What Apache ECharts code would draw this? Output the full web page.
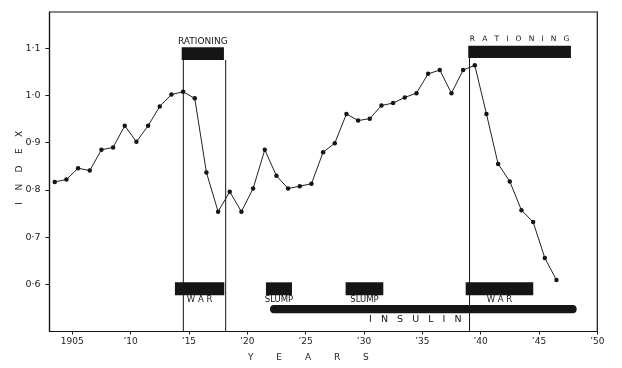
<!DOCTYPE html>
<html>
<head>
<meta charset="utf-8">
<script src="https://cdn.jsdelivr.net/npm/echarts@6/dist/echarts.min.js"></script>
<style>
html,body{margin:0;padding:0;background:#fff;}
#chart{width:622px;height:368px;}
</style>
</head>
<body>
<div id="chart"></div>
<script>
// ---- data ----
const years = [1903,1904,1905,1906,1907,1908,1909,1910,1911,1912,1913,1914,1915,1916,1917,1918,1919,1920,1921,1922,1923,1924,1925,1926,1927,1928,1929,1930,1931,1932,1933,1934,1935,1936,1937,1938,1939,1940,1941,1942,1943,1944,1945,1946];
const indexValues = [0.817,0.822,0.846,0.841,0.885,0.890,0.936,0.902,0.936,0.977,1.002,1.008,0.994,0.837,0.754,0.796,0.754,0.803,0.885,0.830,0.803,0.808,0.813,0.880,0.899,0.961,0.947,0.951,0.979,0.984,0.996,1.005,1.046,1.054,1.005,1.054,1.064,0.961,0.855,0.818,0.757,0.732,0.656,0.609];

const xTicks = [1905,1910,1915,1920,1925,1930,1935,1940,1945,1950];
const xTickLabels = ['1905','\u201910','\u201915','\u201920','\u201925','\u201930','\u201935','\u201940','\u201945','\u201950'];
const yTicks = [0.6,0.7,0.8,0.9,1.0,1.1];
const yTickLabels = ['0\u00b76','0\u00b77','0\u00b78','0\u00b79','1\u00b70','1\u00b71'];

const periodLabels = ['W A R','SLUMP','SLUMP','W A R'];
const periodStart = [1913.80,1921.60,1928.43,1938.72];
const periodEnd   = [1918.03,1923.83,1931.66,1944.51];

const rationingLabels = ['RATIONING','R   A   T   I   O   N   I   N   G'];
const rationingStart = [1914.38,1938.94];
const rationingEnd   = [1918.00,1947.74];

const insulinLabel = 'I   N   S   U   L   I   N';
const insulinStart = [1921.95];
const insulinEnd   = [1948.23];
const insulinLabelYear = [1934.4];

const warLineYears = [1914.52,1918.15,1939.05];

// ---- chart ----
const INK = '#151515';
const FONT = '"DejaVu Sans", sans-serif';

function rectFrom(api, x1, x2, yTop, yBot, r) {
  const a = api.coord([x1, yTop]);
  const b = api.coord([x2, yBot]);
  return {type:'rect', shape:{x:a[0], y:a[1], width:b[0]-a[0], height:b[1]-a[1], r:r||0}, style:{fill:INK}};
}
function textAt(api, x, y, text, size) {
  const p = api.coord([x, y]);
  return {type:'text', x:p[0], y:p[1], style:{text:text, fill:INK, font: size + 'px ' + FONT, align:'center', verticalAlign:'middle', textAlign:'center', textVerticalAlign:'middle'}};
}

const chart = echarts.init(document.getElementById('chart'), null, {renderer:'canvas'});
chart.setOption({
  animation: false,
  backgroundColor: '#fff',
  grid: {left:49.5, right:24.7, top:12, bottom:36.5, show:true, borderColor:INK, borderWidth:1.2, backgroundColor:'transparent'},
  xAxis: {
    type:'value', min:1903.05, max:1950,
    axisLine:{show:true, onZero:false, lineStyle:{color:INK, width:1.2}},
    splitLine:{show:false},
    axisTick:{show:true, customValues:xTicks, length:3, lineStyle:{color:INK}},
    axisLabel:{customValues:xTicks, formatter:(v)=>{const i=xTicks.indexOf(v); return i<0?'':xTickLabels[i];}, color:'#222', fontFamily:FONT, fontSize:9, margin:6},
    name:'Y        E        A        R        S', nameLocation:'middle', nameGap:22, nameMoveOverlap:false,
    nameTextStyle:{color:'#222', fontFamily:FONT, fontSize:9, padding:[0,30,0,0]}
  },
  yAxis: {
    type:'value', min:0.5, max:1.177,
    axisLine:{show:true, onZero:false, lineStyle:{color:INK, width:1.2}},
    splitLine:{show:false},
    axisTick:{show:true, customValues:yTicks, length:4, lineStyle:{color:INK}},
    axisLabel:{customValues:yTicks, formatter:(v)=>{let i=-1; yTicks.forEach((t,k)=>{if(Math.abs(t-v)<1e-6)i=k;}); return i<0?'':yTickLabels[i];}, color:'#222', fontFamily:FONT, fontSize:9.5, margin:9},
    name:'I    N    D    E    X', nameLocation:'middle', nameRotate:90, nameGap:25, nameMoveOverlap:false,
    nameTextStyle:{color:'#222', fontFamily:FONT, fontSize:9, padding:[0,0,0,8]}
  },
  series: [
    {
      type:'custom', silent:true,
      data: warLineYears.map(y=>[y]),
      encode:{x:0},
      renderItem:(params, api)=>{
        const x = api.value(0);
        const top = api.coord([x, params.dataIndex < 2 ? 1.0752 : 1.0796]);
        const bot = api.coord([x, 0.5]);
        return {type:'line', shape:{x1:top[0], y1:top[1], x2:bot[0], y2:bot[1]}, style:{stroke:INK, lineWidth:1}};
      }
    },
    {
      type:'custom', silent:true,
      data: rationingStart.map((s,i)=>[s, rationingEnd[i]]),
      encode:{x:[0,1]},
      renderItem:(params, api)=>{
        const s = api.value(0), e = api.value(1), i = params.dataIndex;
        const top = i===0 ? 1.1021 : 1.1056, bot = i===0 ? 1.0752 : 1.0796;
        const ly = i===0 ? 1.114 : 1.119;
        return {type:'group', children:[
          rectFrom(api, s, e, top, bot, 0),
          textAt(api, (s+e)/2, ly, rationingLabels[i], i===0 ? 9 : 7.5)
        ]};
      }
    },
    {
      type:'custom', silent:true,
      data: periodStart.map((s,i)=>[s, periodEnd[i]]),
      encode:{x:[0,1]},
      renderItem:(params, api)=>{
        const s = api.value(0), e = api.value(1), i = params.dataIndex;
        return {type:'group', children:[
          rectFrom(api, s, e, 0.6042, 0.5768, 0),
          textAt(api, (s+e)/2, 0.5665, periodLabels[i], 8.5)
        ]};
      }
    },
    {
      type:'custom', silent:true,
      data: insulinStart.map((s,i)=>[s, insulinEnd[i], insulinLabelYear[i]]),
      encode:{x:[0,1]},
      renderItem:(params, api)=>{
        const s = api.value(0), e = api.value(1), lx = api.value(2);
        return {type:'group', children:[
          rectFrom(api, s, e, 0.5563, 0.5387, 4),
          textAt(api, lx, 0.526, insulinLabel, 9.5)
        ]};
      }
    },
    {
      type:'line',
      data: years.map((y,i)=>[y + 0.5, indexValues[i]]),
      symbol:'circle', symbolSize:4.5,
      itemStyle:{color:INK},
      lineStyle:{color:'#222', width:1},
      z:5
    }
  ]
});
</script>
</body>
</html>
